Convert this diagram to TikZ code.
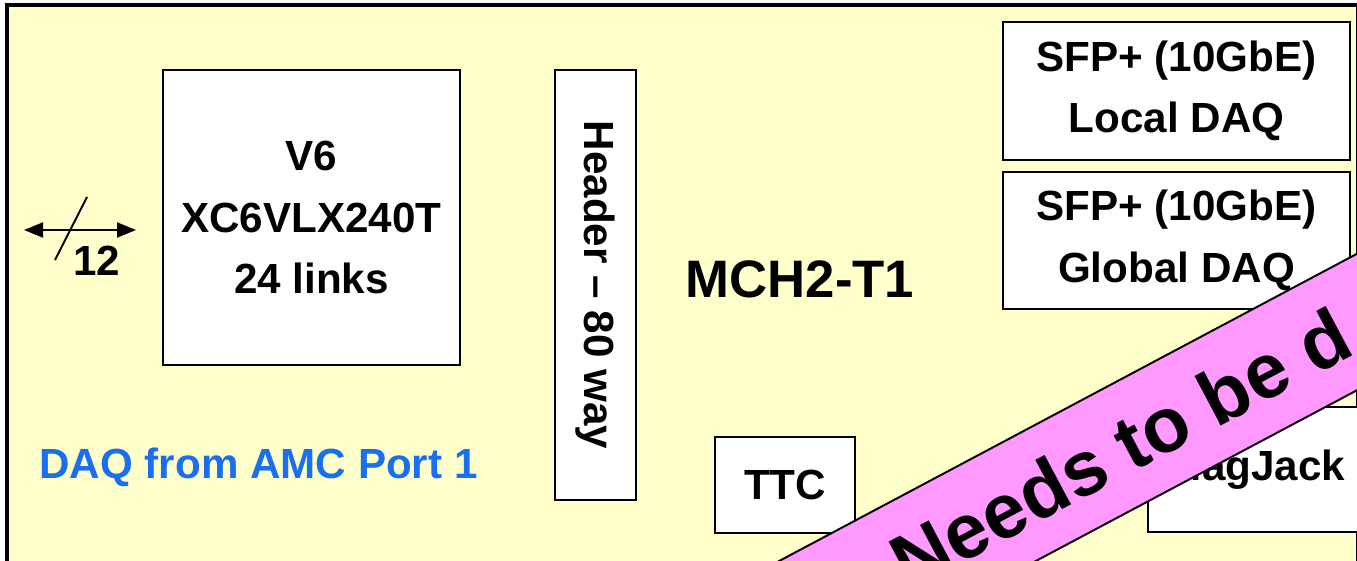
\documentclass[tikz,border=0pt]{standalone}
\usepackage{fontspec}
\setmainfont{Liberation Sans}
\usetikzlibrary{positioning, arrows.meta}
\definecolor{Board}{HTML}{FFFFCC}
\definecolor{Note}{HTML}{FF99FF}
\definecolor{PortBlue}{HTML}{1A6EF0}
\tikzset{
    blockbox/.style={rectangle, draw=black, fill=white, line width=1.3pt, align=center, inner sep=0pt, font=\bfseries\fontsize{24}{35}\selectfont},
    plain/.style={align=center, inner sep=0pt, font=\bfseries\fontsize{24}{35}\selectfont},
    busarrow/.style={{Triangle[length=0.38cm, width=0.3cm]}-{Triangle[length=0.38cm, width=0.3cm]}, line width=1.1pt},
    banner/.style={rectangle, draw=black, fill=Note, line width=1.1pt, inner sep=0pt, font=\bfseries\fontsize{44}{50}\selectfont},
}

\begin{document}
\begin{tikzpicture}
    \useasboundingbox (0,0) rectangle (27.14,11.2);
    \clip (0,0) rectangle (27.14,11.2);

    % Board outline
    \draw[fill=Board, line width=1.9pt] (0.14,11.1) rectangle (27.16,-1);

    % Input bus
    \coordinate (busL) at (0.48,6.6);
    \coordinate (busR) at (2.72,6.6);
    \coordinate (tickA) at (1.1,6.0);
    \coordinate (tickB) at (1.74,7.26);
    \draw[busarrow] (busL) -- (busR);
    \draw[line width=1.1pt] (tickA) -- (tickB);
    \node[plain] (buswidth) at (1.94,5.98) {12};

    % FPGA and header
    \node[blockbox, minimum width=5.94cm, minimum height=5.9cm] (fpga) at (6.23,6.85) {V6\\XC6VLX240T\\24 links};
    \node[blockbox, rotate=-90, minimum width=8.6cm, minimum height=1.62cm] (header) at (11.91,5.5) {Header -- 80 way};
    \node[plain, font=\bfseries\fontsize{30}{36}\selectfont] (mch) at (16.0,5.62) {MCH2-T1};
    \node[plain, text=PortBlue] (port) at (5.17,1.86) {DAQ from AMC Port 1};

    % Outputs
    \node[blockbox, minimum width=6.94cm, minimum height=2.76cm] (sfplocal) at (23.53,9.38) {SFP+ (10GbE)\\Local DAQ};
    \node[blockbox, minimum width=6.94cm, minimum height=2.74cm] (sfpglobal) at (23.53,6.39) {SFP+ (10GbE)\\Global DAQ};
    \node[blockbox, minimum width=2.8cm, minimum height=1.92cm] (ttc) at (15.7,1.5) {TTC};
    \node[blockbox, minimum width=4.32cm, minimum height=2.5cm] (magjack) at (25.12,1.81) {MagJack};

    % Banner
    \node[banner, rotate=28, minimum width=24cm, minimum height=2.41cm] (todo) at (22.4,2.24) {Needs to be d};
\end{tikzpicture}
\end{document}
